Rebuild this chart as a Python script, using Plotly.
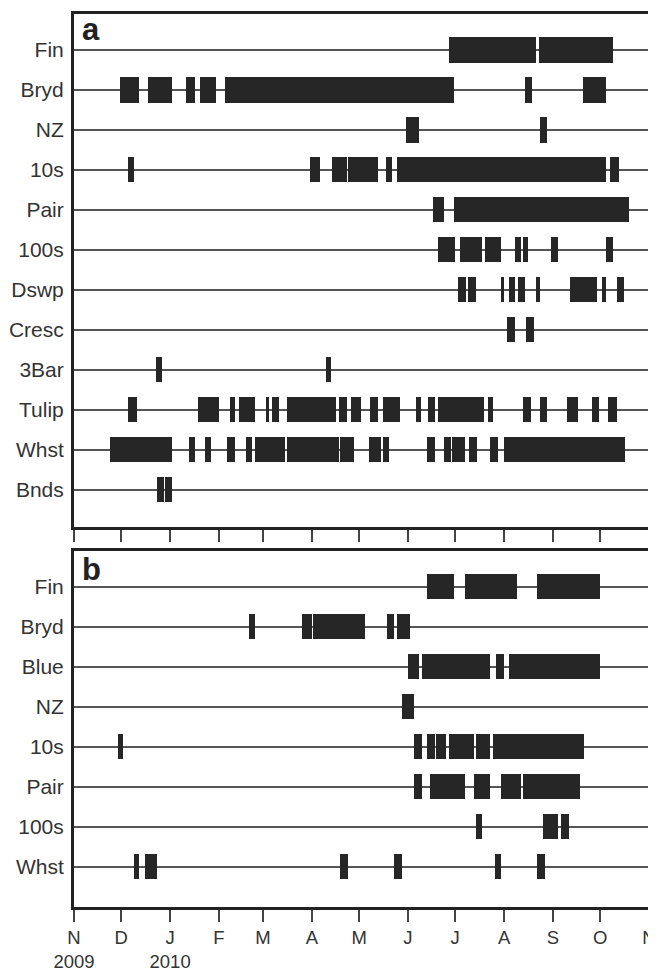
import pandas as pd
import plotly.graph_objects as go

# ---------------- Panel a: detection periods (start, end) ----------------
a_categories = ["Fin", "Bryd", "NZ", "10s", "Pair", "100s", "Dswp", "Cresc", "3Bar", "Tulip", "Whst", "Bnds"]

a_fin = [("2010-06-27", "2010-08-21"), ("2010-08-23", "2010-10-09")]
a_bryd = [("2009-11-30", "2009-12-12"), ("2009-12-18", "2010-01-02"), ("2010-01-11", "2010-01-17"),
          ("2010-01-20", "2010-01-30"), ("2010-02-05", "2010-06-30"), ("2010-08-14", "2010-08-19"),
          ("2010-09-20", "2010-10-05")]
a_nz = [("2010-05-31", "2010-06-08"), ("2010-08-24", "2010-08-28")]
a_10s = [("2009-12-05", "2009-12-09"), ("2010-03-31", "2010-04-06"), ("2010-04-14", "2010-04-23"),
         ("2010-04-24", "2010-05-13"), ("2010-05-18", "2010-05-22"), ("2010-05-25", "2010-10-05"),
         ("2010-10-07", "2010-10-13")]
a_pair = [("2010-06-17", "2010-06-24"), ("2010-06-30", "2010-10-19")]
a_100s = [("2010-06-20", "2010-07-01"), ("2010-07-04", "2010-07-18"), ("2010-07-20", "2010-07-30"),
          ("2010-08-08", "2010-08-12"), ("2010-08-13", "2010-08-16"), ("2010-08-31", "2010-09-04"),
          ("2010-10-05", "2010-10-09")]
a_dswp = [("2010-07-03", "2010-07-08"), ("2010-07-09", "2010-07-14"), ("2010-07-30", "2010-08-01"),
          ("2010-08-04", "2010-08-08"), ("2010-08-10", "2010-08-14"), ("2010-08-21", "2010-08-24"),
          ("2010-09-12", "2010-09-29"), ("2010-10-02", "2010-10-05"), ("2010-10-12", "2010-10-16")]
a_cresc = [("2010-08-03", "2010-08-08"), ("2010-08-15", "2010-08-20")]
a_3bar = [("2009-12-23", "2009-12-27"), ("2010-04-10", "2010-04-13")]
a_tulip = [("2009-12-05", "2009-12-11"), ("2010-01-19", "2010-02-01"), ("2010-02-08", "2010-02-11"),
           ("2010-02-14", "2010-02-24"), ("2010-03-03", "2010-03-05"), ("2010-03-07", "2010-03-11"),
           ("2010-03-16", "2010-04-03"), ("2010-04-03", "2010-04-16"), ("2010-04-18", "2010-04-23"),
           ("2010-04-26", "2010-05-02"), ("2010-05-08", "2010-05-13"), ("2010-05-16", "2010-05-27"),
           ("2010-06-06", "2010-06-09"), ("2010-06-14", "2010-06-18"), ("2010-06-20", "2010-07-08"),
           ("2010-07-08", "2010-07-19"), ("2010-07-22", "2010-07-25"), ("2010-08-13", "2010-08-18"),
           ("2010-08-24", "2010-08-28"), ("2010-09-10", "2010-09-17"), ("2010-09-26", "2010-09-30"),
           ("2010-10-06", "2010-10-12")]
a_whst = [("2009-11-24", "2010-01-02"), ("2010-01-13", "2010-01-17"), ("2010-01-23", "2010-01-27"),
          ("2010-02-06", "2010-02-11"), ("2010-02-18", "2010-02-22"), ("2010-02-24", "2010-03-15"),
          ("2010-03-16", "2010-04-18"), ("2010-04-19", "2010-04-28"), ("2010-05-07", "2010-05-15"),
          ("2010-05-16", "2010-05-20"), ("2010-06-13", "2010-06-18"), ("2010-06-24", "2010-06-28"),
          ("2010-06-29", "2010-07-07"), ("2010-07-10", "2010-07-15"), ("2010-07-23", "2010-07-28"),
          ("2010-08-01", "2010-10-17")]
a_bnds = [("2009-12-24", "2009-12-28"), ("2009-12-29", "2010-01-02")]

a_rows = [a_fin, a_bryd, a_nz, a_10s, a_pair, a_100s, a_dswp, a_cresc, a_3bar, a_tulip, a_whst, a_bnds]

# ---------------- Panel b ----------------
b_categories = ["Fin", "Bryd", "Blue", "NZ", "10s", "Pair", "100s", "Whst"]

b_fin = [("2010-06-13", "2010-06-30"), ("2010-07-07", "2010-08-09"), ("2010-08-22", "2010-10-01")]
b_bryd = [("2010-02-20", "2010-02-24"), ("2010-03-26", "2010-04-01"), ("2010-04-02", "2010-05-05"),
          ("2010-05-19", "2010-05-23"), ("2010-05-25", "2010-06-02")]
b_blue = [("2010-06-01", "2010-06-08"), ("2010-06-10", "2010-07-23"), ("2010-07-27", "2010-08-01"),
          ("2010-08-04", "2010-10-01")]
b_nz = [("2010-05-28", "2010-06-05")]
b_10s = [("2009-11-29", "2009-12-02"), ("2010-06-05", "2010-06-10"), ("2010-06-13", "2010-06-18"),
         ("2010-06-19", "2010-06-25"), ("2010-06-27", "2010-07-13"), ("2010-07-14", "2010-07-23"),
         ("2010-07-25", "2010-09-21")]
b_pair = [("2010-06-05", "2010-06-10"), ("2010-06-15", "2010-07-07"), ("2010-07-13", "2010-07-23"),
          ("2010-07-30", "2010-08-12"), ("2010-08-13", "2010-09-18")]
b_100s = [("2010-07-14", "2010-07-18"), ("2010-08-26", "2010-09-04"), ("2010-09-06", "2010-09-11")]
b_whst = [("2009-12-09", "2009-12-12"), ("2009-12-16", "2009-12-24"), ("2010-04-19", "2010-04-24"),
          ("2010-05-23", "2010-05-28"), ("2010-07-26", "2010-07-30"), ("2010-08-22", "2010-08-27")]

b_rows = [b_fin, b_bryd, b_blue, b_nz, b_10s, b_pair, b_100s, b_whst]

# ---------------- Axis ticks ----------------
month_ticks = ["2009-11-01", "2009-12-01", "2010-01-01", "2010-02-01", "2010-03-01", "2010-04-01",
               "2010-05-01", "2010-06-01", "2010-07-01", "2010-08-01", "2010-09-01", "2010-10-01",
               "2010-11-01"]
month_labels = ["N<br>2009", "D", "J<br>2010", "F", "M", "A", "M", "J", "J", "A", "S", "O", "N"]

BAR = "#262626"
GRID = "#555555"
TICK = "#444444"
FRAME = "#222222"
FONT = "Liberation Sans, Arial, sans-serif"


def build_trace(categories, rows, xa, ya):
    ys, bases, lens = [], [], []
    for cat, segs in zip(categories, rows):
        for s, e in segs:
            st = pd.Timestamp(s)
            en = pd.Timestamp(e)
            ys.append(cat)
            bases.append(st.strftime("%Y-%m-%d"))
            lens.append((en - st).total_seconds() * 1000.0)
    return go.Bar(orientation="h", y=ys, x=lens, base=bases, width=0.63,
                  marker=dict(color=BAR, line=dict(width=0)),
                  xaxis=xa, yaxis=ya, showlegend=False, hoverinfo="skip")


fig = go.Figure()
fig.add_trace(build_trace(a_categories, a_rows, "x", "y"))
fig.add_trace(build_trace(b_categories, b_rows, "x2", "y2"))

xcommon = dict(type="date", range=["2009-11-01", "2010-11-01"], tickmode="array",
               tickvals=month_ticks, showgrid=False, zeroline=False, automargin=False,
               showline=True, linecolor=FRAME, linewidth=3, mirror=True,
               ticks="outside", ticklen=12, tickwidth=2, tickcolor=TICK)

ycommon = dict(type="category", showgrid=True, gridcolor=GRID, gridwidth=2, automargin=False,
               zeroline=False, showline=True, linecolor=FRAME, linewidth=3, mirror=True,
               ticks="", tickfont=dict(family=FONT, size=21, color="#333333"), ticklabelstandoff=3)

# plot area: 66..641 px horizontally, 6..899 px vertically (figure coords)
fig.update_layout(
    width=656, height=977,
    margin=dict(l=66, r=15, t=6, b=78),
    paper_bgcolor="white", plot_bgcolor="white",
    barmode="overlay", bargap=0,
    font=dict(family=FONT, color="#333333"),
    xaxis=dict(**xcommon, anchor="y", showticklabels=False),
    yaxis=dict(**ycommon, domain=[0.4255, 1.0], anchor="x",
               categoryorder="array", categoryarray=a_categories,
               range=[11.939, -0.901]),
    xaxis2=dict(**xcommon, anchor="y2", ticktext=month_labels, ticklabelstandoff=0,
                tickfont=dict(family=FONT, size=18.5, color="#333333")),
    yaxis2=dict(**ycommon, domain=[0.0, 0.3981], anchor="x2",
                categoryorder="array", categoryarray=b_categories,
                range=[8.0075, -0.88]),
    annotations=[
        dict(text="<b>a</b>", xref="x domain", yref="y domain", x=0.011, y=1.008,
             xanchor="left", yanchor="top", showarrow=False,
             font=dict(family=FONT, size=31, color="#222222")),
        dict(text="<b>b</b>", xref="x2 domain", yref="y2 domain", x=0.011, y=1.004,
             xanchor="left", yanchor="top", showarrow=False,
             font=dict(family=FONT, size=31, color="#222222")),
    ],
)

fig.write_html("out.html")
